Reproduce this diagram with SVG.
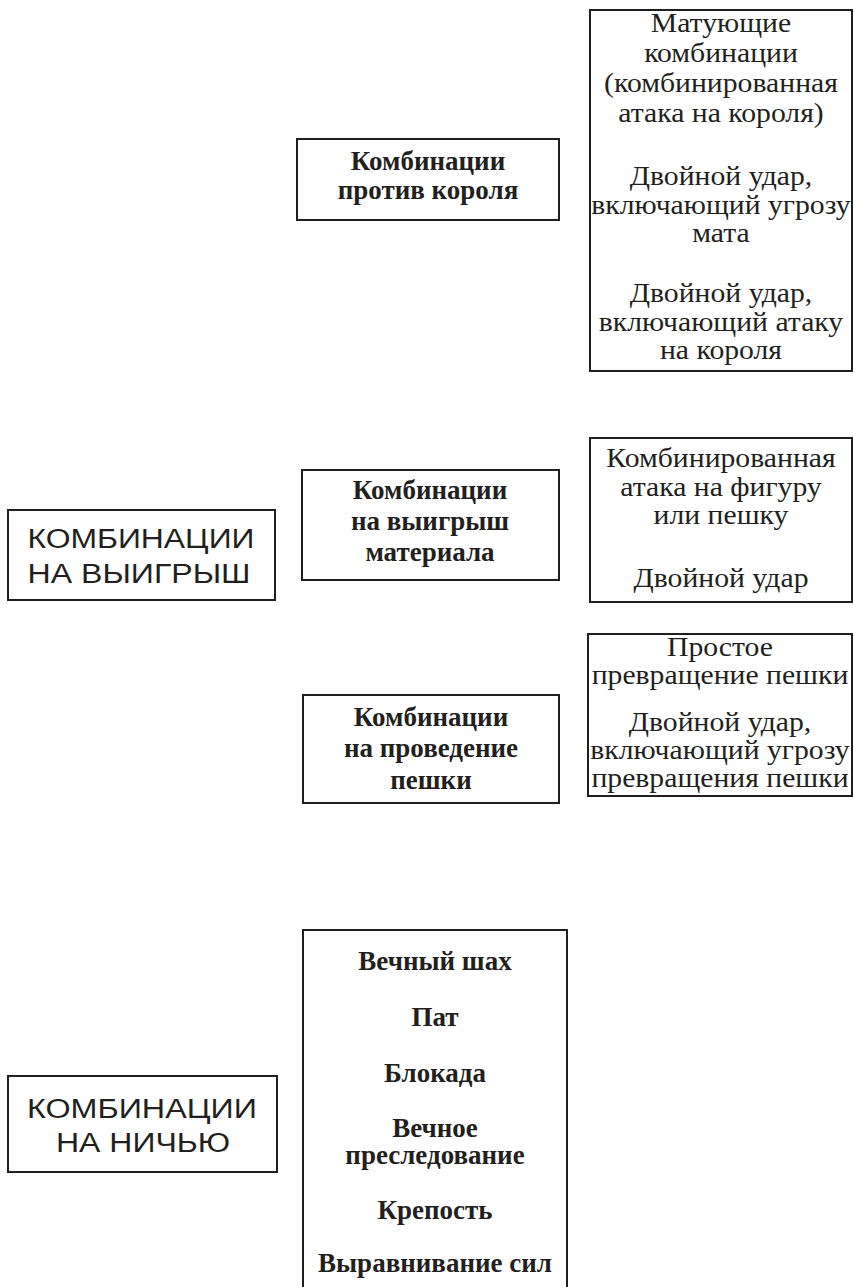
<svg xmlns="http://www.w3.org/2000/svg" width="854" height="1287" viewBox="0 0 854 1287">
<style>
rect{fill:#fff;stroke:#231f20;stroke-width:2}
text{fill:#231f20;text-anchor:middle}
.r{font-family:"Liberation Serif","Times New Roman",serif;font-size:27px}
.b{font-family:"Liberation Serif","Times New Roman",serif;font-size:27px;font-weight:bold}
.c{font-family:"Liberation Sans",Arial,sans-serif;font-size:27px}
</style>
<rect x="0" y="0" width="854" height="1287" style="stroke:none"/>
<g id="connectors"></g>
<g id="win">
<rect x="8" y="510" width="267" height="90"/>
<text class="c" x="141" y="548" textLength="227" lengthAdjust="spacingAndGlyphs">КОМБИНАЦИИ</text>
<text class="c" x="139" y="583" textLength="223" lengthAdjust="spacingAndGlyphs">НА ВЫИГРЫШ</text>
</g>
<g id="draw">
<rect x="8" y="1076" width="269" height="96"/>
<text class="c" x="142" y="1118" textLength="230" lengthAdjust="spacingAndGlyphs">КОМБИНАЦИИ</text>
<text class="c" x="143" y="1152" textLength="174" lengthAdjust="spacingAndGlyphs">НА НИЧЬЮ</text>
</g>
<g id="king">
<rect x="297" y="139" width="262" height="81"/>
<text class="b" x="428" y="170">Комбинации</text>
<text class="b" x="428" y="199">против короля</text>
</g>
<g id="material">
<rect x="302" y="470" width="257" height="110"/>
<text class="b" x="430" y="499">Комбинации</text>
<text class="b" x="430" y="530">на выигрыш</text>
<text class="b" x="430" y="561">материала</text>
</g>
<g id="pawn">
<rect x="303" y="695" width="256" height="108"/>
<text class="b" x="431" y="726">Комбинации</text>
<text class="b" x="431" y="757">на проведение</text>
<text class="b" x="431" y="789">пешки</text>
</g>
<g id="king-list">
<rect x="590" y="10" width="262" height="361"/>
<g transform="translate(721 0) scale(1.1 1) translate(-721 0)">
<text class="r" x="721" y="32">Матующие</text>
<text class="r" x="721" y="62">комбинации</text>
<text class="r" x="721" y="92">(комбинированная</text>
<text class="r" x="721" y="122">атака на короля)</text>
<text class="r" x="721" y="185">Двойной удар,</text>
<text class="r" x="721" y="214">включающий угрозу</text>
<text class="r" x="721" y="242">мата</text>
<text class="r" x="721" y="302">Двойной удар,</text>
<text class="r" x="721" y="331">включающий атаку</text>
<text class="r" x="721" y="359">на короля</text>
</g>
</g>
<g id="material-list">
<rect x="590" y="438" width="262" height="164"/>
<g transform="translate(721 0) scale(1.1 1) translate(-721 0)">
<text class="r" x="721" y="467">Комбинированная</text>
<text class="r" x="721" y="496">атака на фигуру</text>
<text class="r" x="721" y="524">или пешку</text>
<text class="r" x="721" y="587">Двойной удар</text>
</g>
</g>
<g id="pawn-list">
<rect x="588" y="634" width="264" height="162"/>
<g transform="translate(720 0) scale(1.1 1) translate(-720 0)">
<text class="r" x="720" y="656">Простое</text>
<text class="r" x="720" y="684">превращение пешки</text>
<text class="r" x="720" y="731">Двойной удар,</text>
<text class="r" x="720" y="759">включающий угрозу</text>
<text class="r" x="720" y="787">превращения пешки</text>
</g>
</g>
<g id="draw-list">
<rect x="303" y="930" width="264" height="366"/>
<text class="b" x="435" y="970">Вечный шах</text>
<text class="b" x="435" y="1026">Пат</text>
<text class="b" x="435" y="1082">Блокада</text>
<text class="b" x="435" y="1137">Вечное</text>
<text class="b" x="435" y="1164">преследование</text>
<text class="b" x="435" y="1219">Крепость</text>
<text class="b" x="435" y="1272">Выравнивание сил</text>
</g>
</svg>
